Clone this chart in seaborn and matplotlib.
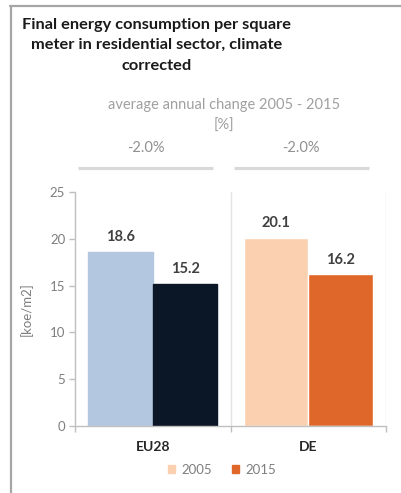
import matplotlib
matplotlib.use("Agg")
import matplotlib.pyplot as plt
import matplotlib.transforms as mtransforms
from matplotlib.lines import Line2D
from matplotlib.patches import Patch
import seaborn as sns
import pandas as pd

# ---- data ----
regions = ["EU28", "DE"]
years = ["2005", "2015"]
values_2005 = [18.6, 20.1]
values_2015 = [15.2, 16.2]
change_labels = ["-2.0%", "-2.0%"]
yticks = [0, 5, 10, 15, 20, 25]
title_lines = ["Final energy consumption per square",
               "meter in residential sector, climate",
               "corrected"]
subtitle_lines = ["average annual change 2005 - 2015", "[%]"]
ylabel = "[koe/m2]"

df = pd.DataFrame({
    "region": regions * 2,
    "year": [years[0]] * len(regions) + [years[1]] * len(regions),
    "value": values_2005 + values_2015,
})

sns.set_theme(style="white")
plt.rcParams['font.family'] = ['Lato', 'DejaVu Sans']

W, H = 401, 493
fig = plt.figure(figsize=(W / 100, H / 100), dpi=100)
ax = fig.add_axes([75 / W, 1 - 426 / H, 311 / W, 234 / H])

palette = ["#fbd0b0", "#e0672a"]
sns.barplot(data=df, x="region", y="value", hue="year", order=regions,
            hue_order=years, palette=palette, width=0.83, saturation=1,
            legend=False, ax=ax, errorbar=None)

# EU28 bars in blue shades
eu_colors = ["#b4c7e0", "#0b1626"]
for cont, col in zip(ax.containers, eu_colors):
    cont[0].set_facecolor(col)
    cont[0].set_edgecolor(col)
for cont in ax.containers:
    ax.bar_label(cont, fmt="%.1f", padding=5.5, fontsize=10.5, fontweight="bold",
                 color="#404040")

ax.set_ylim(0, 25)
ax.set_xlim(-0.5, len(regions) - 0.5)
ax.set_yticks(yticks)
ax.tick_params(axis="y", colors="#bfbfbf", labelcolor="#7f7f7f", labelsize=9.5,
               length=4, width=1, direction="out", left=True, pad=3)
ax.tick_params(axis="x", length=0, pad=11, labelsize=10, labelcolor="#262626")
for lab in ax.get_xticklabels():
    lab.set_fontweight("bold")
bounds = [i - 0.5 for i in range(len(regions) + 1)]
ax.set_xticks(bounds, minor=True)
ax.tick_params(axis="x", which="minor", length=4, width=1, color="#bfbfbf",
               bottom=True, direction="out")
for b in bounds[1:]:
    ax.axvline(b, color="#e3e3e3", lw=1, zorder=0)

for s in ["top", "right"]:
    ax.spines[s].set_visible(False)
for s in ["left", "bottom"]:
    ax.spines[s].set_color("#bfbfbf")
    ax.spines[s].set_linewidth(1)

ax.set_xlabel("")
ax.set_ylabel(ylabel, color="#7f7f7f", fontsize=9.5)
ax.yaxis.set_label_coords((33 - 75) / 311, 0.5)

# titles
title_y = [25, 45, 66]
for line, y in zip(title_lines, title_y):
    fig.text(157 / W, 1 - y / H, line, ha="center", va="center",
             fontsize=11.8, fontweight="bold", color="#1a1a1a")
sub_y = [105, 126]
for line, y in zip(subtitle_lines, sub_y):
    fig.text(224 / W, 1 - y / H, line, ha="center", va="center",
             fontsize=10.5, color="#a0a0a0")

# change labels and bars above each group
trans = mtransforms.blended_transform_factory(ax.transData, fig.transFigure)
for i, lab in enumerate(change_labels):
    c = i - 0.045
    fig.text(c, 1 - 148 / H, lab, transform=trans, ha="center", va="center",
             fontsize=10.5, color="#909090")
    fig.add_artist(Line2D([c - 0.435, c + 0.435], [1 - 167.5 / H] * 2,
                          transform=trans, color="#d9d9d9", lw=2.3,
                          solid_capstyle="butt"))

# legend
handles = [Patch(facecolor=c, edgecolor=c) for c in palette]
fig.legend(handles, years, loc="center", bbox_to_anchor=(222 / W, 1 - 470 / H),
           ncol=2, frameon=False, fontsize=9.5, handlelength=0.55,
           handleheight=0.55, handletextpad=0.5, columnspacing=1.5,
           labelcolor="#7f7f7f")

# frame (top & left)
fig.add_artist(Line2D([10 / W, 1], [1 - 5.5 / H] * 2, transform=fig.transFigure,
                      color="#a6a6a6", lw=1.6))
fig.add_artist(Line2D([10.5 / W] * 2, [0, 1 - 5.5 / H], transform=fig.transFigure,
                      color="#a6a6a6", lw=1.6))

fig.savefig("out.png", dpi=100)
